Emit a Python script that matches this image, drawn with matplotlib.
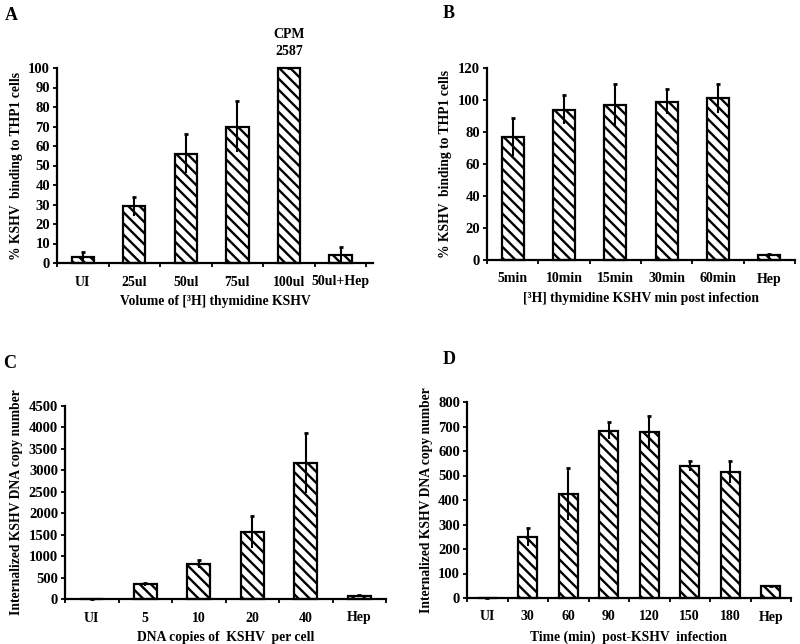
import matplotlib
matplotlib.use("Agg")
import matplotlib.pyplot as plt
import numpy as np

plt.rcParams['font.family'] = ['Liberation Serif', 'DejaVu Serif']
plt.rcParams['font.weight'] = 'bold'
plt.rcParams['hatch.linewidth'] = 1.7
plt.rcParams['hatch.color'] = 'black'

# panel A
a_cats = ['UI', '25ul', '50ul', '75ul', '100ul', '50ul+Hep']
a_vals = [3, 29, 56, 70, 100, 4]
a_errs = [2.5, 5, 10, 13, 0, 4]
a_ticks = [0, 10, 20, 30, 40, 50, 60, 70, 80, 90, 100]

# panel B
b_cats = ['5min', '10min', '15min', '30min', '60min', 'Hep']
b_vals = [77, 94, 97, 99, 101, 3]
b_errs = [12, 9, 13, 8, 9, 1]
b_ticks = [0, 20, 40, 60, 80, 100, 120]

# panel C
c_cats = ['UI', '5', '10', '20', '40', 'Hep']
c_vals = [0, 340, 820, 1560, 3180, 80]
c_errs = [0, 40, 100, 370, 700, 15]
c_ticks = [0, 500, 1000, 1500, 2000, 2500, 3000, 3500, 4000, 4500]

# panel D
d_cats = ['UI', '30', '60', '90', '120', '150', '180', 'Hep']
d_vals = [2, 248, 425, 683, 677, 538, 515, 48]
d_errs = [0, 37, 105, 35, 65, 20, 45, 3]
d_ticks = [0, 100, 200, 300, 400, 500, 600, 700, 800]

W, H = 800, 644
fig = plt.figure(figsize=(8, 6.44), dpi=100)


def panel(box, cats, vals, errs, yticks, ylabel, xlabel, width=0.43, xright=None):
    l, r, t, b = box
    ax = fig.add_axes([l / W, 1 - b / H, (r - l) / W, (b - t) / H])
    x = np.arange(len(cats))
    ax.bar(x, vals, width=width, color='white', edgecolor='black',
           linewidth=1.6, hatch='\\\\\\', clip_on=False, zorder=2)
    eb = ax.errorbar(x, vals, yerr=errs, fmt='none', ecolor='black',
                     elinewidth=1.5, capsize=1.6, capthick=2, zorder=3, clip_on=False)
    eb[1][0].set_visible(False)  # lower caps sit inside the hatch
    n = len(cats)
    ax.set_xlim(-0.5, n - 0.5 if xright is None else xright)
    ax.set_ylim(yticks[0], yticks[-1])
    ax.set_yticks(yticks)
    ax.set_xticks(np.arange(n + 1) - 0.5)
    ax.set_xticklabels([])
    ax.set_xticks(x, minor=True)
    ax.set_xticklabels(cats, minor=True)
    ax.tick_params(axis='x', which='minor', length=0, pad=9, labelsize=10)
    ax.tick_params(axis='x', which='major', length=3, width=1.3, direction='out')
    ax.tick_params(axis='y', length=3, width=1.3, direction='out', labelsize=10.5, pad=2)
    for s in ['top', 'right']:
        ax.spines[s].set_visible(False)
    for s in ['left', 'bottom']:
        ax.spines[s].set_linewidth(1.6)
    ax.set_ylabel(ylabel, fontsize=9.8, fontweight='bold', labelpad=4)
    ax.set_xlabel(xlabel, fontsize=9.8, fontweight='bold', labelpad=5)
    return ax


axA = panel((57, 373, 68, 263), a_cats, a_vals, a_errs, a_ticks,
            '% KSHV  binding to THP1 cells', 'Volume of [³H] thymidine KSHV',
            xright=5.63)
axA.text(4, 117, 'CPM', ha='center', va='center', fontsize=10, fontweight='bold')
axA.text(4, 108.7, '2587', ha='center', va='center', fontsize=10, fontweight='bold')

axB = panel((487, 795, 68, 260), b_cats, b_vals, b_errs, b_ticks,
            '% KSHV  binding to THP1 cells', '[³H] thymidine KSHV min post infection')

axC = panel((65, 386, 406, 599), c_cats, c_vals, c_errs, c_ticks,
            'Internalized KSHV DNA copy number', 'DNA copies of  KSHV  per cell')

axD = panel((467, 791, 402, 598), d_cats, d_vals, d_errs, d_ticks,
            'Internalized KSHV DNA copy number', 'Time (min)  post-KSHV  infection',
            width=0.47)

for letter, px, py in [('A', 5, 16), ('B', 443, 13), ('C', 3, 363), ('D', 443, 360)]:
    fig.text(px / W, 1 - py / H, letter, ha='left', va='center',
             fontsize=13, fontweight='bold')

fig.savefig('out.png', dpi=100)
